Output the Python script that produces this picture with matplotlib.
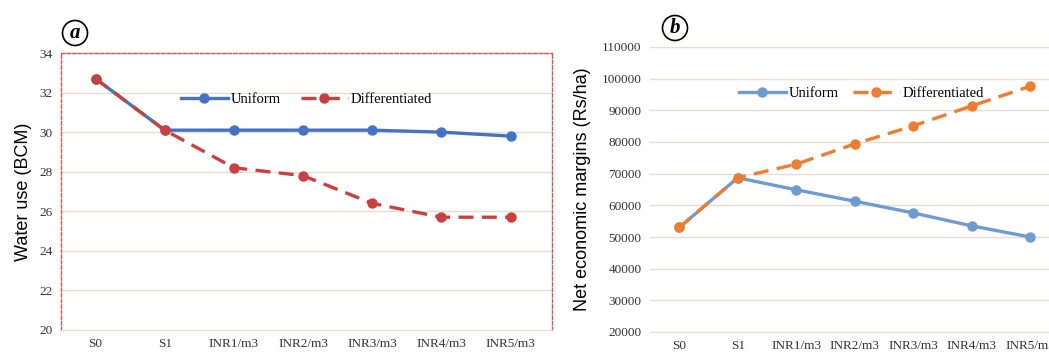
import matplotlib.pyplot as plt

# scenario labels shared by both panels
categories = ["S0", "S1", "INR1/m3", "INR2/m3", "INR3/m3", "INR4/m3", "INR5/m3"]

# panel a: water use (BCM)
water_uniform = [32.7, 30.1, 30.1, 30.1, 30.1, 30.0, 29.8]
water_diff = [32.7, 30.1, 28.2, 27.8, 26.4, 25.7, 25.7]
water_ticks = [20, 22, 24, 26, 28, 30, 32, 34]

# panel b: net economic margins (Rs/ha)
nem_uniform = [53000, 68700, 64900, 61300, 57600, 53500, 50000]
nem_diff = [53000, 68700, 73000, 79400, 85100, 91400, 97600]
nem_ticks = list(range(20000, 110001, 10000))

grid_col = "#eadcd4"
serif = ["Liberation Serif", "DejaVu Serif"]
sans = ["Liberation Sans", "DejaVu Sans"]

fig = plt.figure(figsize=(10.49, 3.54), dpi=100)
W, H = 1049, 354
x = list(range(len(categories)))


def style_axes(ax, ticks):
    ax.set_xticks(x)
    ax.set_xticklabels(categories, family=serif, fontsize=9.5)
    ax.set_yticks(ticks)
    ax.set_ylim(ticks[0], ticks[-1])
    for lab in ax.get_yticklabels():
        lab.set_family(serif)
        lab.set_fontsize(9.5)
    ax.tick_params(length=0, pad=6, colors="#333333")
    ax.grid(axis="y", color=grid_col, lw=1)
    ax.set_axisbelow(True)


# ---- panel a ----
ax1 = fig.add_axes([61 / W, 24 / H, 491 / W, 277 / H])
ax1.plot(x, water_uniform, "-o", color="#4472c4", lw=2.4, ms=6.5, label="Uniform")
ax1.plot(x, water_diff, "--o", color="#c9413f", lw=2.4, ms=6.5, dashes=(4.5, 2.5),
         label="Differentiated")
style_axes(ax1, water_ticks)
ax1.set_xlim(-0.5, 6.6)
for s in ["left", "top", "right"]:
    ax1.spines[s].set_color("#d9534f")
    ax1.spines[s].set_linestyle((0, (2.5, 1.5)))
    ax1.spines[s].set_linewidth(1)
ax1.spines["bottom"].set_color(grid_col)
ax1.set_ylabel("Water use (BCM)", family=sans, fontsize=13, labelpad=5)
ax1.legend(loc="upper center", bbox_to_anchor=(0.5, 0.905), ncol=2, frameon=False,
           prop={"family": serif, "size": 10.5}, handlelength=3.2, columnspacing=1.4,
           handletextpad=0.2)
fig.text(75 / W, 1 - 33 / H, "a", family=serif, style="italic", weight="bold",
         fontsize=15, ha="center", va="center",
         bbox=dict(boxstyle="circle,pad=0.12", fc="white", ec="black", lw=1.2))

# ---- panel b ----
ax2 = fig.add_axes([650 / W, 22 / H, 399 / W, 285 / H])
ax2.plot(x, nem_uniform, "-o", color="#6f9bd3", lw=2.4, ms=6.5, label="Uniform")
ax2.plot(x, nem_diff, "--o", color="#ee7d31", lw=2.4, ms=6.5, dashes=(4.5, 2.5),
         label="Differentiated")
style_axes(ax2, nem_ticks)
ax2.set_xlim(-0.5, 6.32)
for s in ["left", "top", "right"]:
    ax2.spines[s].set_visible(False)
ax2.spines["bottom"].set_color(grid_col)
ax2.set_ylabel("Net economic margins (Rs/ha)", family=sans, fontsize=13, labelpad=8)
ax2.legend(loc="upper center", bbox_to_anchor=(0.53, 0.905), ncol=2, frameon=False,
           prop={"family": serif, "size": 10.5}, handlelength=3.2, columnspacing=1.0,
           handletextpad=0.2)
fig.text(675 / W, 1 - 28 / H, "b", family=serif, style="italic", weight="bold",
         fontsize=15, ha="center", va="center",
         bbox=dict(boxstyle="circle,pad=0.12", fc="white", ec="black", lw=1.2))

fig.savefig("out.png", dpi=100)
